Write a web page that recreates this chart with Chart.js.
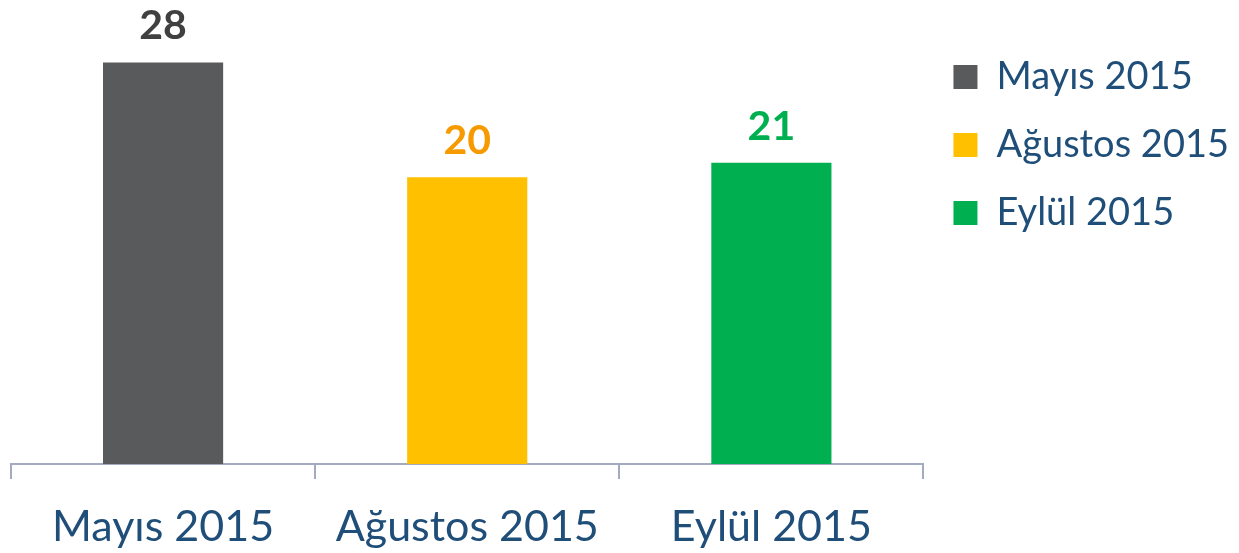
<!DOCTYPE html>
<html>
<head>
<meta charset="utf-8">
<script src="https://cdn.jsdelivr.net/npm/chart.js@4.4.0/dist/chart.umd.min.js"></script>
<style>
  html, body { margin: 0; padding: 0; background: #fff; }
  #wrap { width: 1239px; height: 553px; position: relative; }
</style>
</head>
<body>
<div id="wrap"><canvas id="barChart"></canvas></div>
<script>
const categories = ["Mayıs 2015", "Ağustos 2015", "Eylül 2015"];
const values = [28, 20, 21];
const barColors = ["#595A5C", "#FFC000", "#00B050"];
const labelColors = ["#404040", "#F79A00", "#00B050"];

const textBlue = "#1F4E79";
const axisColor = "#A3ABC0";

// draws the number above each bar
const valueLabels = {
    id: "valueLabels",
    afterDatasetsDraw(chart) {
        const ctx = chart.ctx;
        const meta = chart.getDatasetMeta(0);
        ctx.save();
        ctx.font = "bold 41px Lato";
        ctx.textAlign = "center";
        ctx.textBaseline = "alphabetic";
        meta.data.forEach(function (bar, i) {
            ctx.fillStyle = labelColors[i];
            ctx.fillText(values[i], bar.x, bar.y - 23);
        });
        ctx.restore();
    }
};

document.addEventListener("DOMContentLoaded", function () {
    const ctx = document.getElementById("barChart").getContext("2d");

    new Chart(ctx, {
        type: "bar",
        data: {
            labels: categories,
            datasets: [{
                data: values,
                backgroundColor: barColors,
                borderWidth: 0,
                categoryPercentage: 1,
                barPercentage: 0.395
            }]
        },
        options: {
            responsive: true,
            maintainAspectRatio: false,
            animation: false,
            layout: {
                padding: { left: 11, top: 28, right: 0, bottom: 0 }
            },
            plugins: {
                tooltip: { enabled: false },
                legend: {
                    position: "right",
                    align: "start",
                    labels: {
                        color: textBlue,
                        font: { family: "Lato", size: 38 },
                        boxWidth: 24,
                        boxHeight: 24,
                        padding: 30,
                        generateLabels: function () {
                            return categories.map(function (c, i) {
                                return {
                                    text: c,
                                    fillStyle: barColors[i],
                                    strokeStyle: barColors[i],
                                    lineWidth: 0,
                                    fontColor: textBlue,
                                    index: i
                                };
                            });
                        }
                    }
                }
            },
            scales: {
                y: {
                    display: false,
                    min: 0,
                    max: 30.4
                },
                x: {
                    offset: true,
                    border: { color: axisColor, width: 2 },
                    grid: {
                        offset: true,
                        drawOnChartArea: false,
                        drawTicks: true,
                        tickLength: 15,
                        color: axisColor,
                        lineWidth: 2
                    },
                    ticks: {
                        color: textBlue,
                        font: { family: "Lato", size: 43 },
                        padding: 22,
                        maxRotation: 0
                    },
                    afterFit: function (scale) {
                        scale.height = 89;
                    }
                }
            }
        },
        plugins: [valueLabels]
    });
});
</script>
</body>
</html>
